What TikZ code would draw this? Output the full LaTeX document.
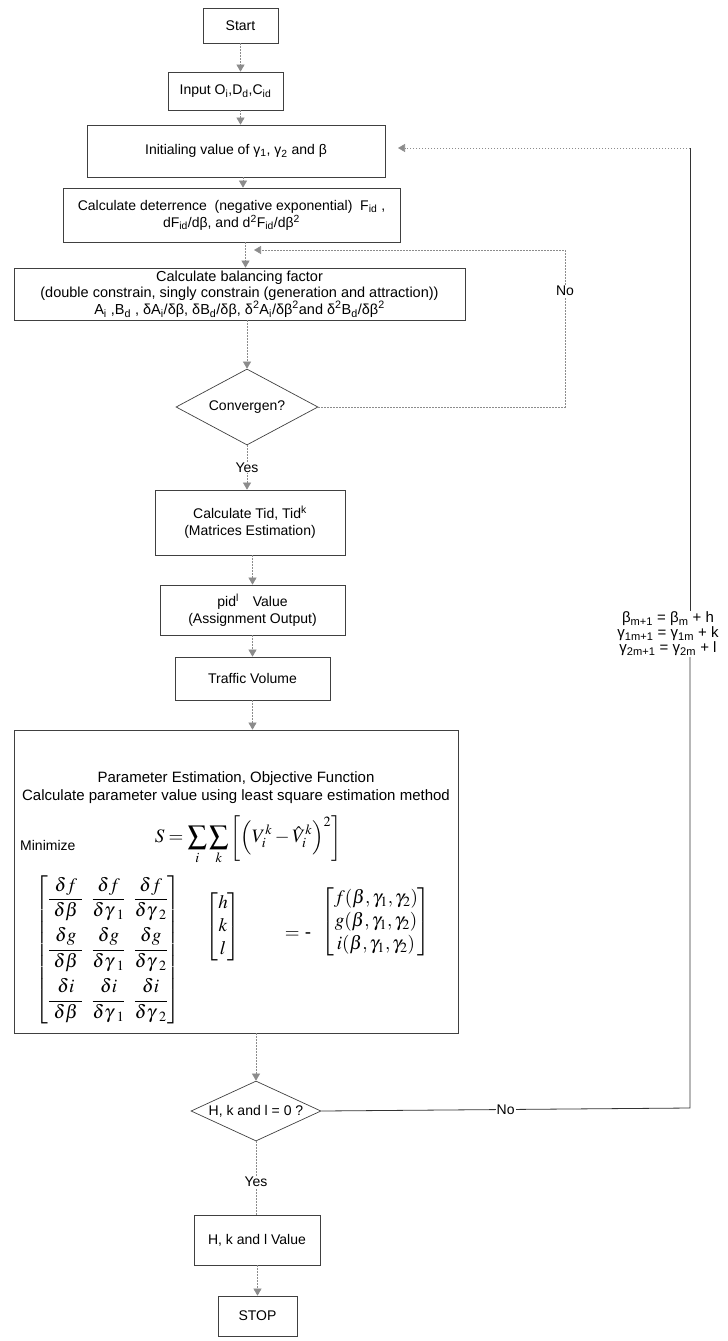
\documentclass[tikz,border=0pt]{standalone}
\usepackage{amsmath}
\usepackage{mathptmx}
\usepackage[no-math]{fontspec}
\setmainfont{Liberation Sans}
\usetikzlibrary{arrows.meta,shapes.geometric,calc}
\begin{document}
\begin{tikzpicture}[x=1pt,y=-1pt,
  box/.style={draw=black!75, line width=0.7pt, align=center, inner sep=0pt, font=\fontsize{14}{17}\selectfont},
  dec/.style={diamond, draw=black!75, line width=0.7pt, inner sep=0pt, aspect=2, font=\fontsize{14}{17}\selectfont},
  flow/.style={draw=black!45, dash pattern=on 1.5pt off 1.5pt, line width=0.6pt, -{Triangle[width=8pt,length=7pt,fill=black!45]}},
  flowplain/.style={draw=black!45, dash pattern=on 1.5pt off 1.5pt, line width=0.6pt},
  solidline/.style={draw=black!80, line width=0.8pt},
  lbl/.style={font=\fontsize{14}{17}\selectfont, fill=white, inner sep=1pt},
  mathtxt/.style={font=\fontsize{19}{23}\selectfont, inner sep=0pt}
]
\useasboundingbox (0,0) rectangle (728,1341);

% nodes
\node[box, minimum width=75pt, minimum height=35pt] (start) at (240.5,25.5) {Start};
\node[box, minimum width=115pt, minimum height=38pt] (input) at (225.5,91) {Input O\textsubscript{i},D\textsubscript{d},C\textsubscript{id}};
\node[box, minimum width=298pt, minimum height=52pt] (init) at (236,151) {Initialing value of γ\textsubscript{1}, γ\textsubscript{2} and β};
\node[box, minimum width=337pt, minimum height=54pt] (deter) at (231.5,215) {Calculate deterrence\ \ (negative exponential)\ \ F\textsubscript{id} ,\\dF\textsubscript{id}/dβ, and d\textsuperscript{2}F\textsubscript{id}/dβ\textsuperscript{2}};
\node[box, minimum width=451pt, minimum height=52pt, font=\fontsize{14.5}{16.5}\selectfont] (bal) at (239.5,294) {Calculate balancing factor\\(double constrain, singly constrain (generation and attraction))\\A\textsubscript{i} ,B\textsubscript{d} , δA\textsubscript{i}/δβ, δB\textsubscript{d}/δβ, δ\textsuperscript{2}A\textsubscript{i}/δβ\textsuperscript{2}and δ\textsuperscript{2}B\textsubscript{d}/δβ\textsuperscript{2}};
\node[dec, minimum width=142pt, minimum height=76pt] (conv) at (247,407) {Convergen?};
\node[box, minimum width=190pt, minimum height=65pt] (tid) at (250,522.5) {Calculate Tid, Tid\textsuperscript{k}\\(Matrices Estimation)};
\node[box, minimum width=185pt, minimum height=50pt] (pid) at (252.5,610) {pid\textsuperscript{l}\quad Value\\(Assignment Output)};
\node[box, minimum width=155pt, minimum height=43pt] (traffic) at (252.5,678.5) {Traffic Volume};
\node[box, minimum width=444pt, minimum height=303pt] (big) at (236,881.5) {};
\node[dec, minimum width=130pt, minimum height=60pt] (hk) at (256,1111) {H, k and l = 0 ?};
\node[box, minimum width=126pt, minimum height=50pt] (hkval) at (257,1240) {H, k and l Value};
\node[box, minimum width=79pt, minimum height=40pt] (stop) at (257.5,1316) {STOP};

% contents of the big box
\node[align=center, font=\fontsize{15}{18}\selectfont, inner sep=0pt] (bhead) at (236,788) {Parameter Estimation, Objective Function\\Calculate parameter value using least square estimation method};
\node[anchor=west, font=\fontsize{14}{17}\selectfont, inner sep=0pt] (minz) at (20,845) {Minimize};
\node[mathtxt] (sform) at (248,840) {$\displaystyle S=\sum_i\sum_k\left[\left(V_i^k-\hat{V}_i^k\right)^{2}\right]$};
\node[mathtxt] (jac) at (108,950) {$\setlength{\arraycolsep}{4pt}\begin{bmatrix}
\dfrac{\delta f}{\;\delta\beta\;} & \dfrac{\delta f}{\delta\gamma_{\;\,1}} & \dfrac{\delta f}{\delta\gamma_{\;\,2}}\\[17pt]
\dfrac{\delta g}{\;\delta\beta\;} & \dfrac{\delta g}{\delta\gamma_{\;\,1}} & \dfrac{\delta g}{\delta\gamma_{\;\,2}}\\[17pt]
\dfrac{\delta i}{\;\delta\beta\;} & \dfrac{\delta i}{\delta\gamma_{\;\,1}} & \dfrac{\delta i}{\delta\gamma_{\;\,2}}
\end{bmatrix}$};
\node[mathtxt] (hkl) at (223,927) {$\begin{bmatrix}h\\k\\l\end{bmatrix}$};
\node[mathtxt] (eqm) at (298,935) {$=$ -};
\node[mathtxt] (rhs) at (376,922) {$\begin{bmatrix}f(\beta,\gamma_1,\gamma_2)\\ g(\beta,\gamma_1,\gamma_2)\\ i(\beta,\gamma_1,\gamma_2)\end{bmatrix}$};

% update label on the outer loop
\node[align=center, font=\fontsize{15}{15}\selectfont, inner sep=1pt] (upd) at (668,634) {β\textsubscript{m+1} = β\textsubscript{m} + h\\γ\textsubscript{1m+1} = γ\textsubscript{1m} + k\\γ\textsubscript{2m+1} = γ\textsubscript{2m} + l};

% loop coordinates
\coordinate (c1) at (565,250);
\coordinate (cl) at (254,250);
\coordinate (c2) at (690,1108);
\coordinate (c3) at (690,148);
\coordinate (ce) at (398,148);

% main flow
\draw[flow] (start.south) -- (start.south |- input.north);
\draw[flow] (start.south |- input.south) -- (start.south |- init.north);
\draw[flow] ([xshift=7pt]init.south) -- ([xshift=7pt]init.south |- deter.north);
\draw[flow] ([xshift=14pt]deter.south) -- ([xshift=14pt]deter.south |- bal.north);
\draw[flow] (conv.north |- bal.south) -- (conv.north);
\draw[flow] (conv.south) -- node[lbl, pos=0.5] {Yes} (conv.south |- tid.north);
\draw[flow] (pid.north |- tid.south) -- (pid.north);
\draw[flow] (pid.south) -- (traffic.north);
\draw[flow] (traffic.south) -- (traffic.south |- big.north);
\draw[flow] (hk.north |- big.south) -- (hk.north);
\draw[flowplain] (hk.south) -- node[lbl, pos=0.55] {Yes} (hk.south |- hkval.north);
\draw[flow] (stop.north |- hkval.south) -- (stop.north);

% inner loop (Convergen? -> No)
\draw[flow] (conv.east) -| (c1) -- (cl);
\node[lbl] (noin) at (565,291) {No};

% outer loop (H, k and l = 0? -> No)
\draw[solidline] (hk.east) -- node[lbl, pos=0.5] {No} (c2) -- (c2 |- upd.south);
\draw[solidline] (c2 |- upd.north) -- (c3);
\draw[flow] (c3) -- (ce);
\end{tikzpicture}
\end{document}
